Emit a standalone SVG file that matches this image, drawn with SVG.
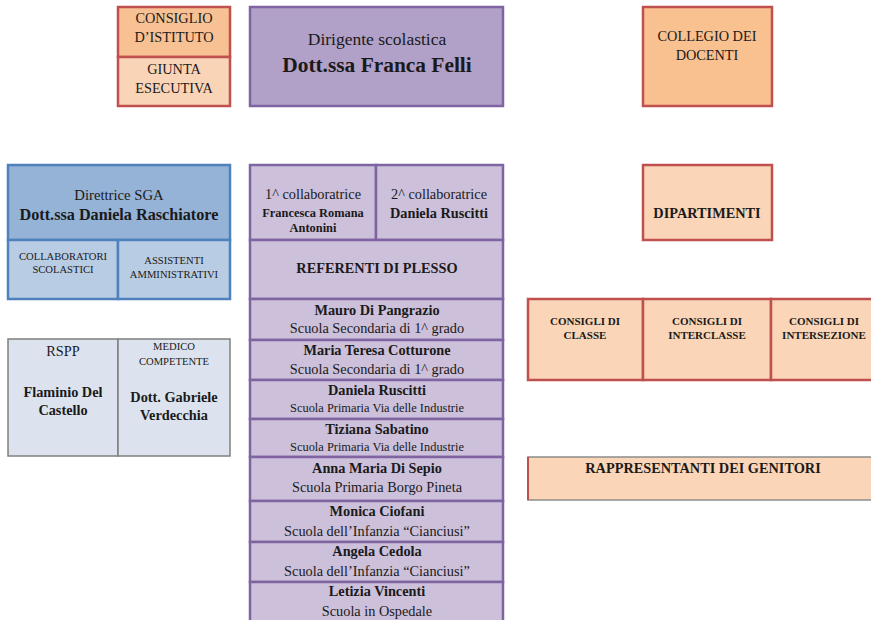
<svg xmlns="http://www.w3.org/2000/svg" width="871" height="620" viewBox="0 0 871 620" font-family="'Liberation Serif', 'DejaVu Serif', serif">
<style>
text{font-family:'Liberation Serif','DejaVu Serif',serif;fill:#1a1a1a;text-anchor:middle}
.b{font-weight:bold}
.red{stroke:#C0504D;stroke-width:2.5}
.pur{fill:#CCC0DA;stroke:#8064A2;stroke-width:2.5}
.blu{stroke:#4F81BD;stroke-width:2.5}
.gry{fill:#DCE3EE;stroke:#7F7F7F;stroke-width:1.5}
.s13{font-size:14.3px}
.s10{font-size:10.6px}
.s11{font-size:12.4px}
.c{font-size:11px}
</style>
<rect width="871" height="620" fill="#ffffff"/>

<g id="consiglio-istituto">
<rect x="118" y="7" width="112" height="50" fill="#F8C193" class="red"/>
<text x="174" y="23" class="s13">CONSIGLIO</text>
<text x="174" y="42" class="s13">D’ISTITUTO</text>
</g>
<g id="giunta-esecutiva">
<rect x="118" y="57" width="112" height="49" fill="#FAD4B6" class="red"/>
<text x="174" y="74" class="s13">GIUNTA</text>
<text x="174" y="93" class="s13">ESECUTIVA</text>
</g>

<g id="dirigente">
<rect x="250" y="7" width="253" height="99" fill="#B1A0C7" stroke="#8064A2" stroke-width="2.5"/>
<text x="377" y="45" style="font-size:17.5px">Dirigente scolastica</text>
<text x="377" y="72" class="b" style="font-size:21.4px">Dott.ssa Franca Felli</text>
</g>

<g id="collegio-docenti">
<rect x="643" y="7" width="129" height="99" fill="#F9C090" class="red"/>
<text x="707" y="41" class="s13">COLLEGIO DEI</text>
<text x="707" y="60" class="s13">DOCENTI</text>
</g>

<g id="dipartimenti">
<rect x="643" y="165" width="129" height="75" fill="#FBD5B7" class="red"/>
<text x="707" y="218" class="s13 b">DIPARTIMENTI</text>
</g>

<g id="direttrice-sga">
<rect x="8" y="165" width="222" height="75" fill="#95B3D7" class="blu"/>
<text x="119" y="200" style="font-size:14.7px">Direttrice SGA</text>
<text x="119" y="220" class="b" style="font-size:16.2px">Dott.ssa Daniela Raschiatore</text>
</g>
<g id="collaboratori-scolastici">
<rect x="8" y="240" width="110" height="59" fill="#B8CCE4" class="blu"/>
<text x="63" y="260" class="s10">COLLABORATORI</text>
<text x="63" y="273" class="s10">SCOLASTICI</text>
</g>
<g id="assistenti-amministrativi">
<rect x="118" y="240" width="112" height="59" fill="#B8CCE4" class="blu"/>
<text x="174" y="264" class="s10">ASSISTENTI</text>
<text x="174" y="278" class="s10">AMMINISTRATIVI</text>
</g>

<g id="rspp">
<rect x="8" y="339" width="110" height="117" class="gry"/>
<text x="63" y="356" class="s13">RSPP</text>
<text x="63" y="397" class="s13 b">Flaminio Del</text>
<text x="63" y="415" class="s13 b">Castello</text>
</g>
<g id="medico-competente">
<rect x="118" y="339" width="112" height="117" class="gry"/>
<text x="174" y="350" class="s10">MEDICO</text>
<text x="174" y="365" class="s10">COMPETENTE</text>
<text x="174" y="402" class="s13 b">Dott. Gabriele</text>
<text x="174" y="420" class="s13 b">Verdecchia</text>
</g>

<g id="collaboratrice-1">
<rect x="250" y="165" width="126" height="75" class="pur"/>
<text x="313" y="199" class="s13">1^ collaboratrice</text>
<text x="313" y="217" class="s11 b">Francesca Romana</text>
<text x="313" y="232" class="s11 b">Antonini</text>
</g>
<g id="collaboratrice-2">
<rect x="376" y="165" width="127" height="75" class="pur"/>
<text x="439" y="199" class="s13">2^ collaboratrice</text>
<text x="439" y="218" class="s13 b">Daniela Ruscitti</text>
</g>
<g id="referenti-plesso">
<rect x="250" y="240" width="253" height="59" class="pur"/>
<text x="377" y="273" class="s13 b">REFERENTI DI PLESSO</text>
</g>
<g id="ref-mauro">
<rect x="250" y="299" width="253" height="41" class="pur"/>
<text x="377" y="315" class="s13 b">Mauro Di Pangrazio</text>
<text x="377" y="333" class="s13">Scuola Secondaria di 1^ grado</text>
</g>
<g id="ref-maria-teresa">
<rect x="250" y="340" width="253" height="40" class="pur"/>
<text x="377" y="355" class="s13 b">Maria Teresa Cotturone</text>
<text x="377" y="374" class="s13">Scuola Secondaria di 1^ grado</text>
</g>
<g id="ref-daniela">
<rect x="250" y="380" width="253" height="39" class="pur"/>
<text x="377" y="395" class="s13 b">Daniela Ruscitti</text>
<text x="377" y="412" class="s11">Scuola Primaria Via delle Industrie</text>
</g>
<g id="ref-tiziana">
<rect x="250" y="419" width="253" height="38" class="pur"/>
<text x="377" y="434" class="s13 b">Tiziana Sabatino</text>
<text x="377" y="451" class="s11">Scuola Primaria Via delle Industrie</text>
</g>
<g id="ref-anna-maria">
<rect x="250" y="457" width="253" height="44" class="pur"/>
<text x="377" y="473" class="s13 b">Anna Maria Di Sepio</text>
<text x="377" y="492" class="s13">Scuola Primaria Borgo Pineta</text>
</g>
<g id="ref-monica">
<rect x="250" y="501" width="253" height="41" class="pur"/>
<text x="377" y="516" class="s13 b">Monica Ciofani</text>
<text x="377" y="536" class="s13">Scuola dell’Infanzia “Cianciusi”</text>
</g>
<g id="ref-angela">
<rect x="250" y="542" width="253" height="40" class="pur"/>
<text x="377" y="556" class="s13 b">Angela Cedola</text>
<text x="377" y="576" class="s13">Scuola dell’Infanzia “Cianciusi”</text>
</g>
<g id="ref-letizia">
<rect x="250" y="582" width="253" height="45" class="pur"/>
<text x="377" y="596" class="s13 b">Letizia Vincenti</text>
<text x="377" y="616" class="s13">Scuola in Ospedale</text>
</g>

<g id="consigli-classe">
<rect x="528" y="299" width="115" height="81" fill="#FBD5B7" class="red"/>
<text x="585" y="325" class="c b">CONSIGLI DI</text>
<text x="585" y="339" class="c b">CLASSE</text>
</g>
<g id="consigli-interclasse">
<rect x="643" y="299" width="128" height="81" fill="#FBD5B7" class="red"/>
<text x="707" y="325" class="c b">CONSIGLI DI</text>
<text x="707" y="339" class="c b">INTERCLASSE</text>
</g>
<g id="consigli-intersezione">
<rect x="771" y="299" width="110" height="81" fill="#FBD5B7" class="red"/>
<text x="824" y="325" class="c b">CONSIGLI DI</text>
<text x="824" y="339" class="c b">INTERSEZIONE</text>
</g>

<g id="rappresentanti-genitori">
<rect x="528" y="457" width="350" height="43" fill="#FBD5B7" stroke="#8C8C8C" stroke-width="1.5"/>
<line x1="528" y1="457" x2="528" y2="500" stroke="#C0504D" stroke-width="2"/>
<text x="703" y="473" class="s13 b">RAPPRESENTANTI DEI GENITORI</text>
</g>

<g id="connectors"></g>
</svg>
